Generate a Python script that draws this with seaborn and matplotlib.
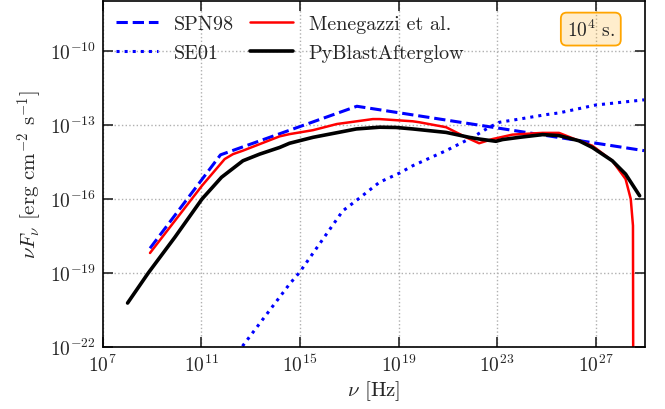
import numpy as np
import pandas as pd
import matplotlib
matplotlib.use("Agg")
import matplotlib.pyplot as plt
import seaborn as sns

# ---- data (log10 values) ----
spn_lognu = [8.92, 11.78, 17.31, 28.96]
spn_logF = [-18.01, -14.22, -12.25, -14.05]

se_lognu = [12.67, 14.58, 14.99, 16.74, 17.28, 18.23, 19.04, 19.58, 20.93,
            22.0, 22.68, 23.09, 23.9, 24.98, 25.51, 27.0, 28.96]
se_logF = [-21.98, -19.46, -18.98, -16.49, -16.08, -15.33, -14.96, -14.66, -14.05,
           -13.51, -13.1, -12.9, -12.77, -12.59, -12.52, -12.2, -11.99]

men_lognu = [8.92, 11.03, 11.95, 12.29, 12.69, 14.18, 14.58, 15.53, 16.5, 17.96,
             18.23, 19.58, 19.85, 20.93, 21.74, 22.27, 22.81, 22.95, 23.62, 24.84,
             25.51, 26.32, 26.86, 27.67, 28.21, 28.42, 28.51, 28.52]
men_logF = [-18.2, -15.47, -14.39, -14.19, -14.05, -13.47, -13.38, -13.22, -12.97, -12.77,
            -12.77, -12.86, -12.9, -13.1, -13.51, -13.75, -13.58, -13.55, -13.4, -13.33,
            -13.33, -13.65, -13.85, -14.46, -15.2, -16.01, -17.09, -23.0]

pba_lognu = [8.01, 8.85, 9.93, 11.03, 11.82, 12.43, 12.69, 13.37, 14.18, 14.58,
             15.53, 17.29, 18.23, 18.9, 19.58, 20.25, 20.93, 21.87, 22.28, 22.95,
             23.22, 23.9, 24.84, 25.51, 26.32, 26.86, 27.67, 28.21, 28.78]
pba_logF = [-20.23, -19.01, -17.56, -16.01, -15.13, -14.66, -14.46, -14.19, -13.92, -13.75,
            -13.51, -13.17, -13.1, -13.11, -13.17, -13.24, -13.31, -13.51, -13.58, -13.67,
            -13.6, -13.51, -13.4, -13.44, -13.65, -13.92, -14.46, -15.0, -15.88]

labels = ["SPN98", "SE01", "Menegazzi et al.", "PyBlastAfterglow"]
xticks = [1e7, 1e11, 1e15, 1e19, 1e23, 1e27]
yticks = [1e-22, 1e-19, 1e-16, 1e-13, 1e-10]

# ---- style ----
sns.set_style("ticks")
plt.rcParams["font.family"] = ["cmr10", "DejaVu Serif"]
plt.rcParams["mathtext.fontset"] = "cm"
plt.rcParams["axes.formatter.use_mathtext"] = True
plt.rcParams["axes.unicode_minus"] = False

fig, ax = plt.subplots(figsize=(6.65, 4.1), dpi=100)
fig.subplots_adjust(left=0.1544, right=0.970, bottom=0.152, top=0.994)

def frame(lx, ly):
    return pd.DataFrame({"nu": 10.0 ** np.array(lx), "F": 10.0 ** np.array(ly)})

sns.lineplot(data=frame(spn_lognu, spn_logF), x="nu", y="F", ax=ax, color="blue",
             linestyle="--", lw=2.2, label=labels[0], sort=False, estimator=None)
sns.lineplot(data=frame(se_lognu, se_logF), x="nu", y="F", ax=ax, color="blue",
             linestyle=":", lw=2.2, label=labels[1], sort=False, estimator=None)
sns.lineplot(data=frame(men_lognu, men_logF), x="nu", y="F", ax=ax, color="red",
             linestyle="-", lw=1.8, label=labels[2], sort=False, estimator=None)
sns.lineplot(data=frame(pba_lognu, pba_logF), x="nu", y="F", ax=ax, color="black",
             linestyle="-", lw=2.6, label=labels[3], sort=False, estimator=None)

ax.set_xscale("log")
ax.set_yscale("log")
ax.set_xlim(1e7, 1e29)
ax.set_ylim(1e-22, 1e-8)
ax.set_xticks(xticks)
ax.set_yticks(yticks)
ax.minorticks_off()
ax.tick_params(direction="in", which="both", top=True, right=True, length=7,
               width=1.2, labelsize=14, pad=5)
ax.grid(True, linestyle=":", color="#b0b0b0", lw=1.0)
for s in ax.spines.values():
    s.set_linewidth(1.2)
    s.set_color("black")

ax.set_xlabel(r"$\nu$ [Hz]", fontsize=15, labelpad=2)
ax.set_ylabel(r"$\nu F_{\nu}$ [erg cm$^{-2}$ s$^{-1}$]", fontsize=15, labelpad=4)

ax.legend(loc="upper left", ncol=2, frameon=False, fontsize=14.5, handlelength=2.1,
          columnspacing=0.8, labelspacing=0.55, borderaxespad=0.25, handletextpad=0.8)

ax.text(0.90, 0.92, r"$10^4$ s.", transform=ax.transAxes, fontsize=14,
        ha="center", va="center",
        bbox=dict(boxstyle="round,pad=0.3", fc=(1.0, 0.647, 0.0, 0.2), ec="orange", lw=1.3))

fig.savefig("out.png", dpi=100)
